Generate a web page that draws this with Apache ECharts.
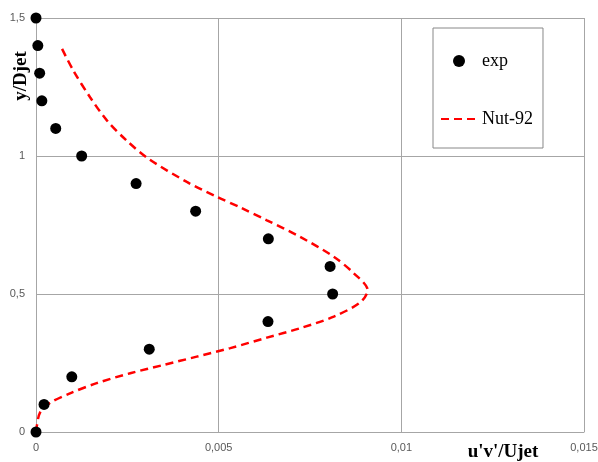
<!DOCTYPE html>
<html lang="en">

<head>
    <meta charset="UTF-8">
    <title>u'v'/Ujet profile</title>
    <style>
        html, body { margin: 0; padding: 0; background: #fff; }
    </style>
</head>

<body>
    <div id="main" style="width: 598px;height:462px;"></div>

    <script src="https://cdn.jsdelivr.net/npm/echarts@6/dist/echarts.min.js"></script>
    <script>
        // measured points (exp)
        var expX = [0, 0.00022, 0.00098, 0.0031, 0.00635, 0.00812, 0.00805, 0.00636, 0.00437, 0.00274, 0.00125, 0.00054, 0.00016, 0.0001, 0.00005, 0];
        var expY = [0, 0.1, 0.2, 0.3, 0.4, 0.5, 0.6, 0.7, 0.8, 0.9, 1.0, 1.1, 1.2, 1.3, 1.4, 1.5];

        var nutX = [0, 0.00002, 0.00011, 0.00038, 0.00093, 0.00166, 0.00258, 0.00349, 0.0044, 0.00532, 0.00632, 0.00723, 0.00815, 0.00888, 0.00908,
            0.0087, 0.00815, 0.00723, 0.00632, 0.00562, 0.00495, 0.00413, 0.00308, 0.00248, 0.00194, 0.00148, 0.00102, 0.00068];
        var nutY = [0, 0.02, 0.07, 0.105, 0.14, 0.177, 0.213, 0.243, 0.273, 0.304, 0.342, 0.376, 0.418, 0.47, 0.514,
            0.575, 0.635, 0.707, 0.767, 0.812, 0.852, 0.906, 0.99, 1.056, 1.129, 1.213, 1.31, 1.397];

        // axis ranges
        var xMax = 0.015, xStep = 0.005;
        var yMax = 1.5, yStep = 0.5;

        var expData = expX.map(function (v, i) { return [v, expY[i]]; });
        var nutData = nutX.map(function (v, i) { return [v, nutY[i]]; });

        // decimal comma like the original
        function comma(v) {
            return String(+v.toFixed(4)).replace('.', ',');
        }

        var gridColor = '#a6a6a6';
        var labelStyle = { color: '#595959', fontSize: 11, fontFamily: 'Liberation Sans' };
        var titleFont = { fontFamily: 'Liberation Serif', fontWeight: 'bold', fontSize: 19, color: '#000' };

        var myChart = echarts.init(document.getElementById('main'));
        var option = {
            animation: false,
            // keep the plot box fixed, the x title may touch the bottom edge
            grid: { left: 36, right: 14, top: 18, bottom: 30, containLabel: false, outerBoundsMode: 'none' },
            xAxis: {
                type: 'value',
                min: 0,
                max: xMax,
                interval: xStep,
                name: "u'v'/Ujet",
                nameLocation: 'end',
                nameGap: -81,
                nameTextStyle: Object.assign({ align: 'center', verticalAlign: 'top', padding: [11, 0, 0, 0] }, titleFont),
                axisLine: { lineStyle: { color: gridColor } },
                axisTick: { show: false },
                axisLabel: Object.assign({ margin: 10, formatter: comma }, labelStyle),
                splitLine: { lineStyle: { color: gridColor } }
            },
            yAxis: {
                type: 'value',
                min: 0,
                max: yMax,
                interval: yStep,
                axisLine: { show: true, lineStyle: { color: gridColor } },
                axisTick: { show: false },
                axisLabel: Object.assign({ margin: 11, formatter: comma }, labelStyle),
                splitLine: { lineStyle: { color: gridColor } }
            },
            // y axis title, rotated
            graphic: {
                elements: [
                    {
                        type: 'text',
                        x: 21,
                        y: 76,
                        rotation: Math.PI / 2,
                        style: {
                            text: 'y/Djet',
                            fill: '#000',
                            align: 'center',
                            verticalAlign: 'middle',
                            font: 'bold 19px "Liberation Serif"'
                        }
                    }
                ]
            },
            legend: {
                orient: 'vertical',
                left: 433,
                top: 28,
                padding: [24, 10, 20, 7],
                itemWidth: 36,
                itemHeight: 12,
                itemGap: 40,
                borderColor: '#888',
                borderWidth: 1,
                textStyle: { fontFamily: 'Liberation Serif', fontSize: 18, color: '#000' },
                data: [
                    { name: 'exp', icon: 'circle' },
                    { name: 'Nut-92', itemStyle: { color: 'rgba(0,0,0,0)', opacity: 0 } }
                ]
            },
            series: [
                {
                    name: 'Nut-92',
                    type: 'line',
                    data: nutData,
                    symbol: 'none',
                    smooth: 0.3,
                    lineStyle: { color: '#ff0000', width: 2.5, type: [8, 5] },
                    itemStyle: { color: '#ff0000' },
                    z: 2
                },
                {
                    name: 'exp',
                    type: 'scatter',
                    data: expData,
                    symbolSize: 11,
                    itemStyle: { color: '#000', opacity: 1 },
                    z: 3
                }
            ]
        };

        option && myChart.setOption(option);
    </script>
</body>

</html>
